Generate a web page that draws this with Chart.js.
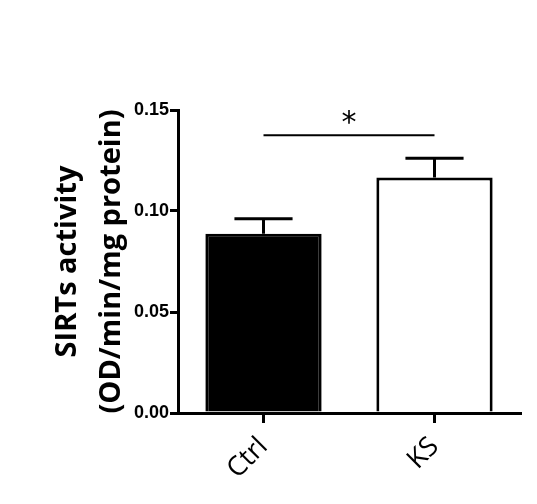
<!DOCTYPE html>
<html>
<head>
<meta charset="utf-8">
<script src="https://cdn.jsdelivr.net/npm/chart.js@4/dist/chart.umd.min.js"></script>
<style>
  html, body { margin: 0; padding: 0; background: #fff; }
  #wrap { width: 537px; height: 504px; }
</style>
</head>
<body>
<div id="wrap"><canvas id="chart" width="537" height="504"></canvas></div>
<script>
// values
const categories = ['Ctrl', 'KS'];
const means = [0.0887, 0.1166];
const sems = [0.0075, 0.0095];
const yTicks = [0, 0.05, 0.10, 0.15];
const sigLevel = 0.1375;
const sigLabel = '*';

const errorBars = {
    id: 'errorBars',
    afterDatasetsDraw(chart) {
        const ctx = chart.ctx;
        const y = chart.scales.y;
        const meta = chart.getDatasetMeta(0);
        ctx.save();
        ctx.strokeStyle = '#000';
        ctx.lineWidth = 3;
        meta.data.forEach((bar, i) => {
            const top = y.getPixelForValue(means[i] + sems[i]);
            const half = bar.width * 0.25;
            ctx.beginPath();
            ctx.moveTo(bar.x, bar.y);
            ctx.lineTo(bar.x, top);
            ctx.moveTo(bar.x - half, top);
            ctx.lineTo(bar.x + half, top);
            ctx.stroke();
        });
        // significance bracket
        const x0 = meta.data[0].x, x1 = meta.data[1].x;
        const sy = y.getPixelForValue(sigLevel);
        ctx.lineWidth = 2;
        ctx.beginPath();
        ctx.moveTo(x0, sy);
        ctx.lineTo(x1, sy);
        ctx.stroke();
        ctx.fillStyle = '#000';
        ctx.font = '30px "DejaVu Sans"';
        ctx.textAlign = 'center';
        ctx.textBaseline = 'bottom';
        ctx.fillText(sigLabel, (x0 + x1) / 2, sy + 4);
        ctx.restore();
    }
};

new Chart(document.getElementById('chart'), {
    type: 'bar',
    data: {
        labels: categories,
        datasets: [{
            data: means,
            backgroundColor: ['#000', '#fff'],
            borderColor: '#000',
            borderWidth: 3,
            borderSkipped: 'bottom',
            categoryPercentage: 1,
            barPercentage: 0.68
        }]
    },
    options: {
        responsive: false,
        devicePixelRatio: 1,
        animation: false,
        layout: { padding: { top: 110, right: 17, left: 0, bottom: 0 } },
        plugins: { legend: { display: false }, tooltip: { enabled: false } },
        scales: {
            x: {
                afterFit(s) { s.height = 91; },
                border: { display: true, color: '#000', width: 3 },
                grid: { drawOnChartArea: false, drawTicks: true, offset: false, tickLength: 10, color: '#000', lineWidth: 3 },
                ticks: {
                    color: '#000',
                    font: { family: '"Open Sans"', size: 27 },
                    minRotation: 45, maxRotation: 45,
                    padding: 8
                }
            },
            y: {
                min: 0, max: 0.15,
                afterFit(s) { s.width = 178; },
                afterBuildTicks(s) { s.ticks = yTicks.map(v => ({ value: v })); },
                border: { display: true, color: '#000', width: 3 },
                grid: { drawOnChartArea: false, drawTicks: true, tickLength: 8, color: '#000', lineWidth: 3 },
                ticks: {
                    color: '#000',
                    font: { family: '"Liberation Sans"', size: 18, weight: 'bold' },
                    padding: 1,
                    callback: v => v.toFixed(2)
                },
                title: {
                    display: true,
                    text: ['SIRTs activity', '(OD/min/mg protein)'],
                    color: '#000',
                    font: { family: '"Open Sans"', size: 29, weight: 'bold', lineHeight: 1.5 },
                    padding: { top: 46, bottom: 0 }
                }
            }
        }
    },
    plugins: [errorBars]
});
</script>
</body>
</html>
